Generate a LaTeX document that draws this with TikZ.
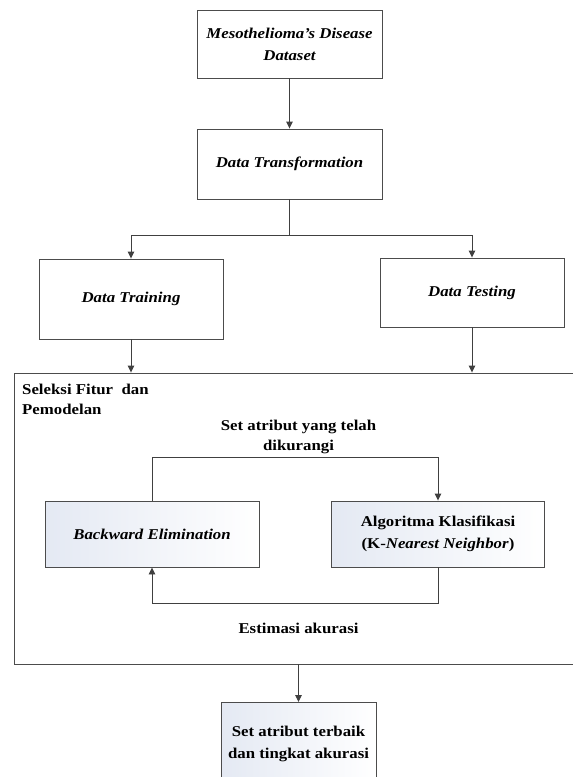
\documentclass[tikz,border=0pt]{standalone}
\usepackage{fontspec}
\setmainfont{Liberation Serif}[FakeStretch=1.12]
\usetikzlibrary{arrows.meta}
\definecolor{shadec}{HTML}{E4E9F3}
\begin{document}
\begin{tikzpicture}[x=1pt,y=-1pt,
  box/.style={draw=black!70, line width=0.9pt, align=center, inner sep=0pt, font=\fontsize{15}{22}\selectfont\bfseries},
  shadebox/.style={box, left color=shadec, right color=white},
  conn/.style={draw=black!75, line width=0.9pt},
  arr/.style={conn, -{Triangle[length=7pt,width=6.5pt]}},
  lbl/.style={align=center, inner sep=0pt, font=\fontsize{15}{20}\selectfont\bfseries}]
\useasboundingbox (0,0) rectangle (573,777);
\clip (0,0) rectangle (573,777);
\node[box, minimum width=185pt, minimum height=68pt] (ds) at (289.5,44) {\itshape Mesothelioma's Disease\\\itshape Dataset};
\node[box, minimum width=185pt, minimum height=70pt] (dt) at (289.5,164) {\itshape Data Transformation};
\node[box, minimum width=184pt, minimum height=80pt] (tr) at (131,299) {\itshape Data Training};
\node[box, minimum width=184pt, minimum height=69pt] (te) at (472,292.5) {\itshape Data Testing};
\node[draw=black!70, line width=0.9pt, inner sep=0pt, minimum width=566pt, minimum height=291pt] (big) at (297,518.5) {};
\node[shadebox, minimum width=214pt, minimum height=66pt] (be) at (152,534) {\itshape Backward Elimination};
\node[shadebox, minimum width=213pt, minimum height=66pt] (alg) at (438,534) {Algoritma Klasifikasi\\(K-\textit{Nearest Neighbor})};
\node[shadebox, minimum width=155pt, minimum height=88pt, anchor=north] (fin) at (298.5,702) {};
\node[lbl, font=\fontsize{15}{22}\selectfont\bfseries] (finl) at (298.5,744) {Set atribut terbaik\\dan tingkat akurasi};
\node[lbl, anchor=north west, align=left] (sel) at (22,384) {Seleksi Fitur\ \ dan\\Pemodelan};
\node[lbl] (set) at (298.5,437) {Set atribut yang telah\\dikurangi};
\node[lbl] (est) at (298.5,628) {Estimasi akurasi};
\coordinate (split) at (289.5,235);
\coordinate (looptop) at (152,457);
\coordinate (loopbot) at (438,603);
\draw[arr] (ds) -- (dt);
\draw[conn] (dt.south) -- (split);
\draw[arr] (split) -| (tr.north);
\draw[arr] (split) -| (te.north);
\draw[arr] (tr.south) -- (tr.south |- big.north);
\draw[arr] (te.south) -- (te.south |- big.north);
\draw[arr] (be.north) -- (looptop) -| (alg.north);
\draw[arr] (alg.south) -- (loopbot) -| (be.south);
\draw[arr] (fin.north |- big.south) -- (fin.north);
\end{tikzpicture}
\end{document}
